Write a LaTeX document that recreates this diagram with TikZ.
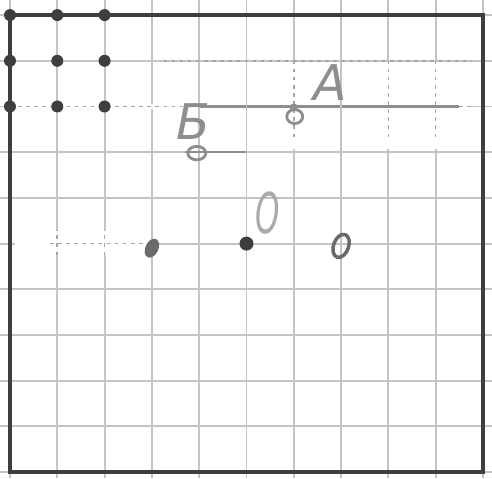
\documentclass[tikz,border=0pt]{standalone}
\usepackage{fontspec}
\setmainfont{DejaVu Sans}
\usetikzlibrary{positioning,shapes.geometric}

\definecolor{gridgray}{HTML}{C4C4C4}
\definecolor{pencil}{HTML}{8E8E8E}
\definecolor{graphite}{HTML}{6A6A6A}
\definecolor{lead}{HTML}{3E3E3E}

\begin{document}
\begin{tikzpicture}[
    x=0.473cm, y=0.457cm,
    gridline/.style={draw=gridgray, line width=0.55pt},
    fadeline/.style={draw=pencil!80, line width=0.45pt, dash pattern=on 1pt off 1.3pt},
    penline/.style={draw=pencil, line width=0.6pt},
    frame/.style={draw=lead, line width=1.1pt},
    dot/.style={circle, fill=lead, inner sep=0pt, minimum size=1.2mm},
    ptfill/.style={ellipse, fill=graphite, inner sep=0pt, minimum width=1.3mm, minimum height=2.0mm, rotate=-25},
    ptopen/.style={ellipse, draw=graphite, line width=1pt, inner sep=0pt, minimum width=1.5mm, minimum height=2.4mm, rotate=-20},
    lbl/.style={text=pencil, font=\itshape\fontsize{14}{14}\selectfont, inner sep=0pt},
]
  \useasboundingbox (-0.211,-0.131) rectangle (10.19,10.33);

  % squared paper
  \foreach \i in {0,...,10} \draw[gridline] (\i,-0.131) -- (\i,10.33);
  \foreach \j in {0,...,10} \draw[gridline] (-0.211,\j) -- (10.19,\j);

  % faded parts of the paper
  \fill[white] (3.25,7.06) rectangle (9.75,8.97);
  \fill[white] (0.1,7.94) rectangle (3.25,8.06);
  \fill[white] (0.1,4.75) rectangle (2.95,5.3);
  \draw[fadeline] (0,8) -- (4,8);
  \draw[penline] (4,8) -- (9.5,8);
  \draw[fadeline] (9.5,8) -- (9.75,8);
  \draw[fadeline] (3.25,9) -- (9.75,9);
  \foreach \i in {6,8,9} \draw[fadeline] (\i,9) -- (\i,7.3);
  \foreach \i in {4,5,7} \draw[gridline] (\i,9) -- (\i,7.06);
  \draw[penline] (3.7,7) -- (5,7);
  \draw[fadeline] (0.85,5) -- (2.95,5);
  \foreach \i in {1,2} \draw[fadeline] (\i,4.75) -- (\i,5.3);

  \draw[frame] (0,0) rectangle (10,10);

  % corner points
  \foreach \i in {0,1,2}
    \foreach \j in {8,9,10}
      \node[dot] (d\i\j) at (\i,\j) {};

  \node[dot, minimum size=1.4mm] (o) at (5,5) {};
  \node[ptfill] (p3) at (3,4.9) {};
  \node[ptopen] (p7) at (7,4.95) {};
  \node[ptopen, draw=pencil, line width=0.8pt, rotate=20, minimum width=1.6mm, minimum height=1.4mm] (pa) at (6.02,7.78) {};
  \node[dot, fill=pencil, minimum size=0.8mm] (pa0) at (6,7.98) {};
  \node[ptopen, draw=pencil, line width=0.8pt, rotate=20, minimum width=1.8mm, minimum height=1.35mm] (pb) at (3.95,6.98) {};

  \node[lbl] (la) at (6.77,8.53) {A};
  \node[lbl] (lb) at (3.87,7.66) {Б};
  \node[lbl, text=pencil!75, font=\itshape\fontsize{16}{16}\selectfont] (lo) at (5.45,5.67) {\scalebox{0.55}[1]{O}};
\end{tikzpicture}
\end{document}
